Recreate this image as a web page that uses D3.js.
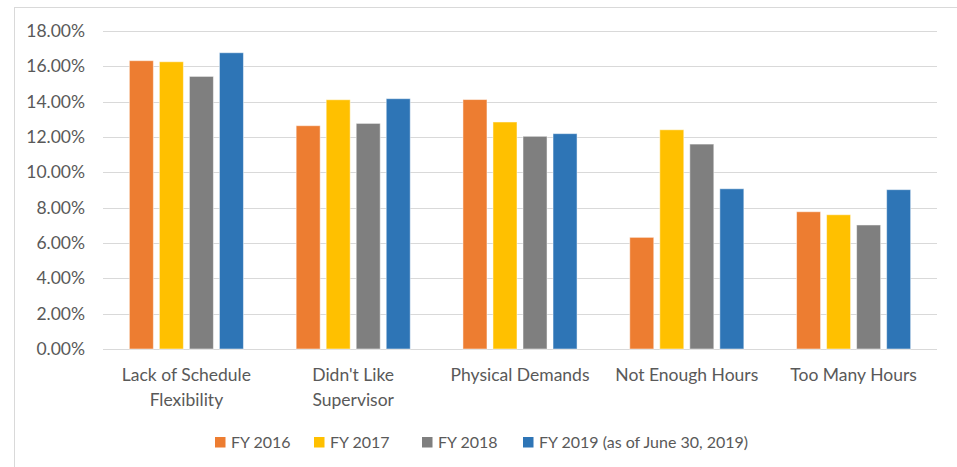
<!DOCTYPE html>
<html>
<head>
<meta charset="utf-8">
<script src="https://cdn.jsdelivr.net/npm/d3@7"></script>
<style>
  body { margin: 0; background: #fff; }
  text { font-family: Lato, "Open Sans", sans-serif; fill: #595959; }
</style>
</head>
<body>
<script>
const width = 957;
const height = 467;

// données (en %)
const categories = [
    ["Lack of Schedule", "Flexibility"],
    ["Didn't Like", "Supervisor"],
    ["Physical Demands"],
    ["Not Enough Hours"],
    ["Too Many Hours"]
];
const seriesNames = ["FY 2016", "FY 2017", "FY 2018", "FY 2019 (as of June 30, 2019)"];
const fy2016 = [16.32, 12.64, 14.12, 6.32, 7.77];
const fy2017 = [16.26, 14.11, 12.85, 12.41, 7.60];
const fy2018 = [15.43, 12.77, 12.04, 11.60, 7.02];
const fy2019 = [16.77, 14.17, 12.19, 9.07, 9.02];
const yTicks = [0, 2, 4, 6, 8, 10, 12, 14, 16, 18];
const colors = ["#ED7D31", "#FFC000", "#7F7F7F", "#2E75B6"];

const allSeries = [fy2016, fy2017, fy2018, fy2019];
const catKeys = categories.map(c => c.join(" "));
const fontSize = "17.5px";

const svg = d3
    .select("body")
    .append("svg")
    .attr("width", width)
    .attr("height", height);

// cadre du graphique
svg.append("rect")
    .attr("x", 14.5)
    .attr("y", 7.5)
    .attr("width", 960)
    .attr("height", 480)
    .attr("fill", "none")
    .attr("stroke", "#D9D9D9");

const plot = { left: 103, right: 937, top: 31, bottom: 349 };

const y = d3.scaleLinear()
    .domain([0, 18])
    .range([plot.bottom, plot.top]);

const x0 = d3.scaleBand()
    .domain(catKeys)
    .range([plot.left, plot.right])
    .paddingInner(0.316)
    .paddingOuter(0.158);

const x1 = d3.scaleBand()
    .domain(d3.range(seriesNames.length))
    .range([0, x0.bandwidth()])
    .paddingInner(0.2);

// grille
svg.append("g")
    .selectAll("line")
    .data(yTicks)
    .join("line")
    .attr("x1", plot.left)
    .attr("x2", plot.right)
    .attr("y1", d => Math.round(y(d)) + 0.5)
    .attr("y2", d => Math.round(y(d)) + 0.5)
    .attr("stroke", "#D9D9D9")
    .attr("stroke-width", 1);

// axe Y
const yAxis = svg.append("g")
    .attr("transform", `translate(${plot.left - 18},0)`)
    .call(d3.axisLeft(y).tickValues(yTicks).tickSize(0).tickFormat(d => d.toFixed(2) + "%"));
yAxis.select(".domain").remove();
yAxis.selectAll("text")
    .attr("x", 0)
    .style("font-size", fontSize)
    .style("font-family", "Lato, sans-serif")
    .attr("fill", "#595959");

// barres
const rows = categories.map((c, i) => ({
    key: catKeys[i],
    values: allSeries.map((s, j) => ({ serie: j, value: s[i] }))
}));

svg.append("g")
    .selectAll("g")
    .data(rows)
    .join("g")
    .attr("transform", d => `translate(${x0(d.key)},0)`)
    .selectAll("rect")
    .data(d => d.values)
    .join("rect")
    .attr("x", d => x1(d.serie))
    .attr("width", x1.bandwidth())
    .attr("y", d => y(d.value))
    .attr("height", d => y(0) - y(d.value))
    .attr("fill", d => colors[d.serie])
    .attr("stroke", "#fff")
    .attr("stroke-opacity", 0.5)
    .attr("stroke-width", 1);

// axe X (étiquettes sur deux lignes)
const xLabels = svg.append("g")
    .selectAll("text")
    .data(categories)
    .join("text")
    .attr("x", (d, i) => x0(catKeys[i]) + x0.bandwidth() / 2)
    .attr("y", 381)
    .attr("text-anchor", "middle")
    .style("font-size", fontSize);

xLabels.selectAll("tspan")
    .data(d => d)
    .join("tspan")
    .attr("x", function () { return d3.select(this.parentNode).attr("x"); })
    .attr("dy", (d, i) => i === 0 ? 0 : 24.5)
    .text(d => d);

// légende
const legendX = [215, 314, 422, 523];
const legend = svg.append("g")
    .selectAll("g")
    .data(seriesNames)
    .join("g")
    .attr("transform", (d, i) => `translate(${legendX[i]},437)`);

legend.append("rect")
    .attr("width", 10.5)
    .attr("height", 10.5)
    .attr("fill", (d, i) => colors[i]);

legend.append("text")
    .attr("x", 16)
    .attr("y", 5.5)
    .attr("dy", "0.35em")
    .style("font-size", "16px")
    .text(d => d);
</script>
</body>
</html>
